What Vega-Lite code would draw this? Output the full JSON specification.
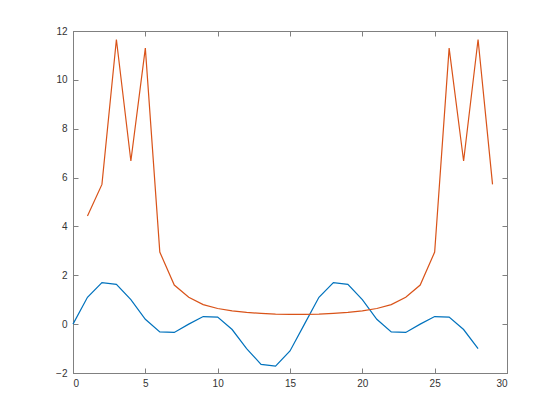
{
  "$schema": "https://vega.github.io/schema/vega-lite/v6.json",
  "width": 434,
  "height": 342,
  "autosize": {"type": "none"},
  "padding": {"left": 73, "top": 31, "right": 53, "bottom": 47},
  "background": "white",
  "config": {
    "view": {"stroke": "#808080", "strokeWidth": 1},
    "axis": {
      "grid": false,
      "domainColor": "#808080",
      "tickColor": "#808080",
      "labelColor": "#333333",
      "labelFont": "Liberation Sans",
      "labelFontSize": 10,
      "tickSize": -5,
      "title": null
    }
  },
  "data": {
    "values": [
      {"x": 0, "y": 0, "s": "a"}, {"x": 1, "y": 1.1, "s": "a"}, {"x": 2, "y": 1.7, "s": "a"}, {"x": 3, "y": 1.63, "s": "a"},
      {"x": 4, "y": 1.0, "s": "a"}, {"x": 5, "y": 0.2, "s": "a"}, {"x": 6, "y": -0.32, "s": "a"}, {"x": 7, "y": -0.34, "s": "a"},
      {"x": 8, "y": 0.0, "s": "a"}, {"x": 9, "y": 0.31, "s": "a"}, {"x": 10, "y": 0.29, "s": "a"}, {"x": 11, "y": -0.22, "s": "a"},
      {"x": 12, "y": -1.0, "s": "a"}, {"x": 13, "y": -1.65, "s": "a"}, {"x": 14, "y": -1.72, "s": "a"}, {"x": 15, "y": -1.1, "s": "a"},
      {"x": 16, "y": 0.0, "s": "a"}, {"x": 17, "y": 1.1, "s": "a"}, {"x": 18, "y": 1.7, "s": "a"}, {"x": 19, "y": 1.63, "s": "a"},
      {"x": 20, "y": 1.0, "s": "a"}, {"x": 21, "y": 0.2, "s": "a"}, {"x": 22, "y": -0.32, "s": "a"}, {"x": 23, "y": -0.34, "s": "a"},
      {"x": 24, "y": 0.0, "s": "a"}, {"x": 25, "y": 0.31, "s": "a"}, {"x": 26, "y": 0.29, "s": "a"}, {"x": 27, "y": -0.22, "s": "a"},
      {"x": 28, "y": -1.0, "s": "a"},
      {"x": 1, "y": 4.43, "s": "b"}, {"x": 2, "y": 5.72, "s": "b"}, {"x": 3, "y": 11.65, "s": "b"}, {"x": 4, "y": 6.68, "s": "b"},
      {"x": 5, "y": 11.3, "s": "b"}, {"x": 6, "y": 2.95, "s": "b"}, {"x": 7, "y": 1.6, "s": "b"}, {"x": 8, "y": 1.1, "s": "b"},
      {"x": 9, "y": 0.8, "s": "b"}, {"x": 10, "y": 0.64, "s": "b"}, {"x": 11, "y": 0.54, "s": "b"}, {"x": 12, "y": 0.48, "s": "b"},
      {"x": 13, "y": 0.44, "s": "b"}, {"x": 14, "y": 0.41, "s": "b"}, {"x": 15, "y": 0.4, "s": "b"}, {"x": 16, "y": 0.4, "s": "b"},
      {"x": 17, "y": 0.41, "s": "b"}, {"x": 18, "y": 0.44, "s": "b"}, {"x": 19, "y": 0.48, "s": "b"}, {"x": 20, "y": 0.54, "s": "b"},
      {"x": 21, "y": 0.64, "s": "b"}, {"x": 22, "y": 0.8, "s": "b"}, {"x": 23, "y": 1.1, "s": "b"}, {"x": 24, "y": 1.6, "s": "b"},
      {"x": 25, "y": 2.95, "s": "b"}, {"x": 26, "y": 11.3, "s": "b"}, {"x": 27, "y": 6.68, "s": "b"}, {"x": 28, "y": 11.65, "s": "b"},
      {"x": 29, "y": 5.72, "s": "b"}
    ]
  },
  "layer": [
    {
      "mark": {"type": "line", "strokeWidth": 1.2},
      "encoding": {
        "x": {"field": "x", "type": "quantitative", "scale": {"domain": [0, 30], "nice": false, "zero": false},
              "axis": {"values": [0, 5, 10, 15, 20, 25, 30], "orient": "bottom", "labelPadding": 10}},
        "y": {"field": "y", "type": "quantitative", "scale": {"domain": [-2, 12], "nice": false, "zero": false},
              "axis": {"values": [-2, 0, 2, 4, 6, 8, 10, 12], "orient": "left", "labelPadding": 11}},
        "color": {"field": "s", "type": "nominal", "scale": {"domain": ["a", "b"], "range": ["#0072BD", "#D95319"]}, "legend": null}
      }
    },
    {
      "mark": {"type": "line", "opacity": 0},
      "encoding": {
        "x": {"field": "x", "type": "quantitative",
              "axis": {"values": [0, 5, 10, 15, 20, 25, 30], "orient": "top", "labels": false}},
        "y": {"field": "y", "type": "quantitative",
              "axis": {"values": [-2, 0, 2, 4, 6, 8, 10, 12], "orient": "right", "labels": false}},
        "detail": {"field": "s"}
      }
    }
  ],
  "resolve": {"axis": {"x": "independent", "y": "independent"}}
}
